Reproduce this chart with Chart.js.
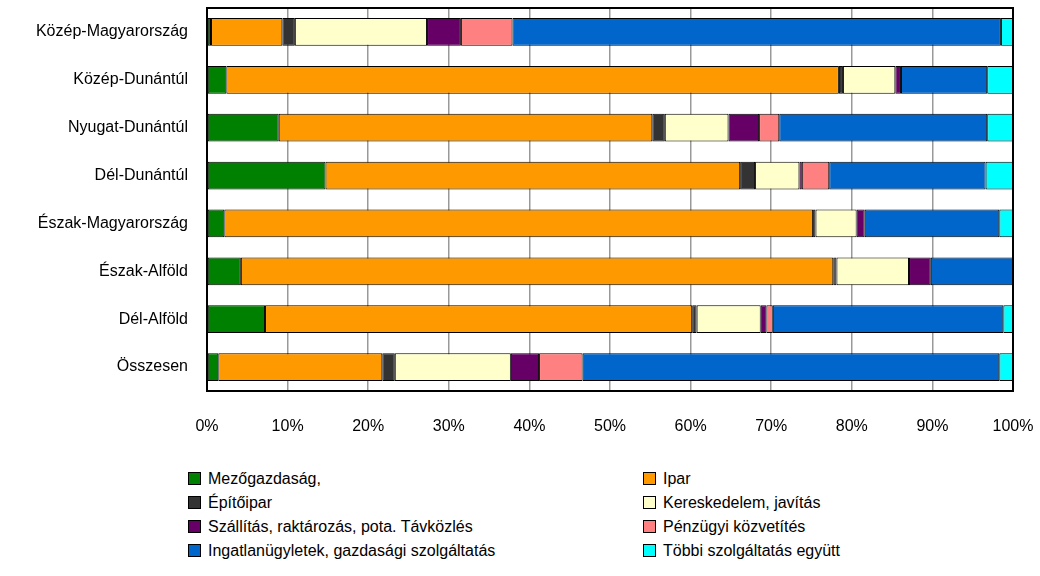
<!DOCTYPE html>
<html>
<head>
<meta charset="utf-8">
<script src="https://cdn.jsdelivr.net/npm/chart.js@4/dist/chart.umd.min.js"></script>
<style>
  html, body { margin: 0; padding: 0; background: #fff; }
  body { width: 1040px; height: 576px; position: relative; overflow: hidden;
         font-family: 'Liberation Sans', Arial, sans-serif; }
  #wrap { position: absolute; left: 0; top: 0; width: 1040px; height: 440px; }
  #legend { position: absolute; left: 188px; top: 468px; width: 850px; }
  .item { position: absolute; height: 22px; line-height: 22px; font-size: 16px; color: #000; white-space: nowrap; }
  .box { display: inline-block; width: 11px; height: 11px; border: 1px solid #000;
         vertical-align: -1px; margin-right: 7px; }
</style>
</head>
<body>
<div id="wrap"><canvas id="chart"></canvas></div>
<div id="legend"></div>
<script>
// ---- Data ----
const regions = ['Közép-Magyarország', 'Közép-Dunántúl', 'Nyugat-Dunántúl', 'Dél-Dunántúl',
  'Észak-Magyarország', 'Észak-Alföld', 'Dél-Alföld', 'Összesen'];

const sectors = ['Mezőgazdaság,', 'Ipar', 'Építőipar', 'Kereskedelem, javítás',
  'Szállítás, raktározás, pota. Távközlés', 'Pénzügyi közvetítés',
  'Ingatlanügyletek, gazdasági szolgáltatás', 'Többi szolgáltatás együtt'];

const mezogazdasag = [0.5, 2.4, 8.9, 14.7, 2.15, 4.2, 7.2, 1.4];
const ipar         = [8.85, 76.0, 46.35, 51.45, 73.05, 73.5, 53.0, 20.35];
const epitoipar    = [1.55, 0.5, 1.55, 1.85, 0.3, 0.4, 0.55, 1.55];
const kereskedelem = [16.4, 6.5, 7.9, 5.5, 5.1, 9.0, 7.95, 14.4];
const szallitas    = [4.2, 0.7, 3.8, 0.3, 1.0, 2.7, 0.7, 3.5];
const penzugy      = [6.4, 0, 2.5, 3.4, 0, 0, 0.8, 5.4];
const ingatlan     = [60.6, 10.7, 25.8, 19.4, 16.7, 10.2, 28.6, 51.7];
const tobbi        = [1.5, 3.2, 3.2, 3.4, 1.7, 0, 1.2, 1.7];

const xTicks = [0, 10, 20, 30, 40, 50, 60, 70, 80, 90, 100];

const series = [mezogazdasag, ipar, epitoipar, kereskedelem, szallitas, penzugy, ingatlan, tobbi];
const colors = ['#008000', '#FF9900', '#333333', '#FFFFCC', '#660066', '#FF8080', '#0066CC', '#00FFFF'];

// ---- Legend (two columns, row-major) ----
const legend = document.getElementById('legend');
sectors.forEach((name, i) => {
  const el = document.createElement('div');
  el.className = 'item';
  el.style.left = (i % 2 === 0 ? 0 : 455) + 'px';
  el.style.top = (Math.floor(i / 2) * 24) + 'px';
  el.innerHTML = `<span class="box" style="background:${colors[i]}"></span>${name}`;
  legend.appendChild(el);
});

// ---- Plot frame ----
const framePlugin = {
  id: 'frame',
  afterDatasetsDraw(chart) {
    const { ctx, chartArea: a } = chart;
    ctx.save();
    ctx.strokeStyle = '#000';
    ctx.lineWidth = 2;
    ctx.strokeRect(a.left, a.top, a.right - a.left, a.bottom - a.top);
    ctx.restore();
  }
};

Chart.defaults.font.family = "'Liberation Sans', Arial, sans-serif";
Chart.defaults.color = '#000';

new Chart(document.getElementById('chart'), {
  type: 'bar',
  data: {
    labels: regions,
    datasets: series.map((d, i) => ({
      label: sectors[i],
      data: d,
      backgroundColor: colors[i],
      borderColor: '#000',
      borderWidth: 1,
      borderSkipped: false,
      categoryPercentage: 1,
      barPercentage: 0.58,
    }))
  },
  options: {
    indexAxis: 'y',
    responsive: true,
    maintainAspectRatio: false,
    animation: false,
    layout: { padding: { top: 8, right: 27, left: 0, bottom: 0 } },
    plugins: { legend: { display: false }, tooltip: { enabled: false } },
    scales: {
      x: {
        stacked: true,
        min: 0,
        max: 100,
        afterBuildTicks: (axis) => { axis.ticks = xTicks.map(v => ({ value: v })); },
        afterFit: (axis) => { axis.height = 49; axis.paddingLeft = 0; axis.paddingRight = 0; },
        grid: { color: '#999', lineWidth: 1.5, drawTicks: false },
        border: { display: false },
        ticks: { font: { size: 16 }, padding: 26, callback: v => v + '%' },
      },
      y: {
        stacked: true,
        afterFit: (axis) => { axis.width = 207; axis.paddingTop = 0; axis.paddingBottom = 0; },
        grid: { display: false, drawTicks: false },
        border: { display: false },
        ticks: { font: { size: 16 }, padding: 19 },
      }
    }
  },
  plugins: [framePlugin]
});
</script>
</body>
</html>
